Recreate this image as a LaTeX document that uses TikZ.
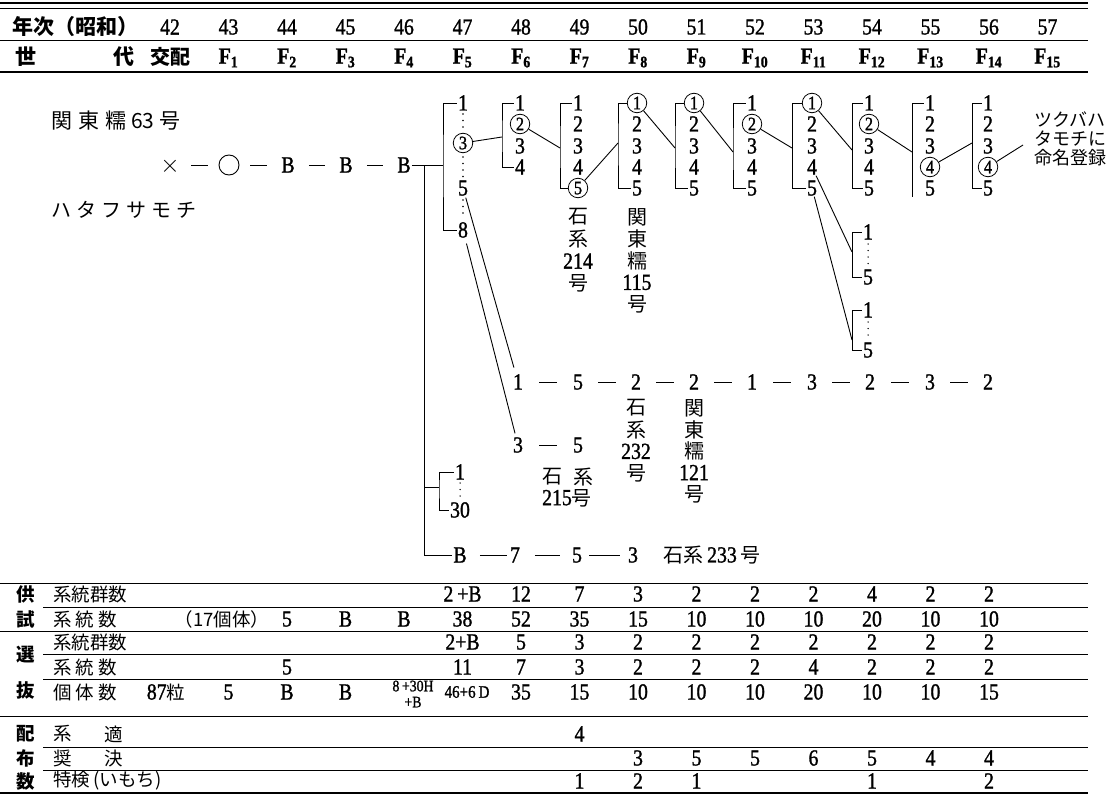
\documentclass[tikz,border=0pt]{standalone}
\usepackage{fontspec}
\setmainfont{Liberation Serif}[FakeStretch=0.86, FakeBold=1.2]
\newfontfamily\cjk{Noto Sans CJK JP}
\usetikzlibrary{calc}
\newcommand\nf{\fontsize{23}{25}\selectfont}
\newcommand\cf{\fontsize{19}{21}\selectfont}
\newcommand\jf{\cjk\fontsize{18.5}{22}\selectfont}
\newcommand\vj{\cjk\fontsize{20}{22}\selectfont}
\tikzset{
 num/.style={font=\nf, inner sep=1pt, text height=15pt, text depth=0pt},
 circ/.style={font=\cf, circle, draw, line width=0.8pt, inner sep=0pt, minimum size=19.5pt, text height=12.5pt, text depth=0pt},
 hd/.style={font=\nf, inner sep=1pt},
 jp/.style={font=\jf, inner sep=1pt},
 jpb/.style={font=\jf\bfseries, inner sep=1pt},
 vl/.style={font=\nf, inner sep=0pt},
 ln/.style={line width=0.9pt},
 dotl/.style={line width=1.8pt, line cap=round, dash pattern=on 0pt off 6.5pt},
 rulel/.style={line width=1pt},
}
\newcommand\grp[3]{%
 \foreach \j/\yy in {1/103,2/124,3/146,4/167,5/188}{%
   \ifnum\j=#3 \node[circ] (p#1-\j) at (#2,\yy) {\j};%
   \else \node[num] (p#1-\j) at (#2,\yy) {\j};\fi
 }}
\begin{document}
\begin{tikzpicture}[x=1pt,y=-1pt]
\fill[white] (0,0) rectangle (1116,797);
\useasboundingbox (0,0) rectangle (1116,797);
% ---------- header ----------
\draw[line width=1.3pt] (0,3) -- (1088,3);
\draw[line width=0.7pt] (0,8) -- (1088,8);
\draw[rulel] (0,41) -- (1088,41);
\draw[line width=1.3pt] (0,72) -- (1088,72);
\node[font=\cjk\bfseries\fontsize{21}{24}\selectfont, anchor=west, inner sep=0pt] (nenji) at (12,27) {年次（昭和）};
\node[font=\cjk\bfseries\fontsize{21}{24}\selectfont, inner sep=0pt] (sei) at (26,57) {世};
\node[font=\cjk\bfseries\fontsize{21}{24}\selectfont, inner sep=0pt] (dai) at (124,57) {代};
\foreach \yr [count=\i from 0] in {42,...,57} \node[hd] (yr\yr) at ({170+58.5*\i},27) {\yr};
\node[font=\cjk\bfseries\fontsize{20}{24}\selectfont, inner sep=0pt] (gen0) at (170,57) {交配};
\foreach \k in {1,...,15} \node[hd] (gen\k) at ({170+58.5*\k},58) {\textbf{F}\textsubscript{\textbf{\k}}};
% ---------- parents ----------
\node[font=\cjk\fontsize{21}{22}\selectfont, anchor=west, inner sep=0pt] (par1) at (51,121) {関\hspace{6pt}東\hspace{6pt}糯\hspace{5pt}63\hspace{5pt}号};
\node[font=\cjk\fontsize{20}{22}\selectfont, anchor=west, inner sep=0pt] (par2) at (51,210) {ハ\hspace{5pt}タ\hspace{5pt}フ\hspace{5pt}サ\hspace{5pt}モ\hspace{5pt}チ};
\node[num] (nx) at (170,165) {$\times$};
\node[draw, circle, minimum size=20pt, inner sep=0pt, line width=0.9pt] (no) at (229,165) {};
\node[num] (nb2) at (288,165) {B};
\node[num] (nb3) at (346,165) {B};
\node[num] (nb4) at (404,165) {B};
\foreach \p/\q in {nx/no, no/nb2, nb2/nb3, nb3/nb4} \draw[ln] ($(\p)!0.36!(\q)$) -- ($(\p)!0.64!(\q)$);
% ---------- F5 ----------
\node[num] (p5-1) at (463,103) {1};
\node[circ] (p5-3) at (463,143) {3};
\node[num] (p5-5) at (463,188) {5};
\node[num] (p5-8) at (463,230) {8};
\draw[dotl] (463,114) -- (463,132);
\draw[dotl] (463,157) -- (463,177);
\draw[dotl] (463,200) -- (463,219);
\coordinate (m5) at (443,165);
\draw[ln] (nb4) -- (m5);
\draw[ln] (p5-1.west) -| (m5) |- (p5-8.west);
% main vertical
\coordinate (j1) at (424,165);
\coordinate (j2) at (424,487);
\coordinate (j3) at (424,555);
\coordinate (mc) at (439,487);
\node[num] (c-1) at (460,472) {1};
\node[num] (c-30) at (460,510) {30};
\draw[dotl, line width=1.5pt] (460,483) -- (460,499);
\draw[ln] (j2) -- (mc);
\draw[ln] (c-1.west) -| (mc) |- (c-30.west);
\node[num] (bb) at (460,555) {B};
\draw[ln] (j1) -- (j3) -- (bb.west);
% ---------- F6 ----------
\node[num] (p6-1) at (520,103) {1};
\node[circ] (p6-2) at (520,124) {2};
\node[num] (p6-3) at (520,146) {3};
\node[num] (p6-4) at (520,167) {4};
\coordinate (m6) at (502,137);
\draw[ln] (p6-1.west) -| (m6) |- (p6-4.west);
\draw[ln] (p5-3) -- (m6);
% ---------- F7..F14 ----------
\grp{7}{578}{5}
\grp{8}{637}{1}
\grp{9}{694}{1}
\grp{10}{752}{2}
\grp{11}{812}{1}
\grp{12}{869}{2}
\grp{13}{930}{4}
\grp{14}{988}{4}
\coordinate (m7) at (560,148);
\coordinate (m8) at (618,143);
\coordinate (m9) at (675,148);
\coordinate (m10) at (733,152);
\coordinate (m11) at (792,148);
\coordinate (m12) at (852,150);
\coordinate (m13) at (912,152);
\coordinate (m13b) at (912,197);
\coordinate (m14) at (972,143);
\coordinate (tend) at (1023,145);
\foreach \g in {7,8,9,10,11,12,14} \draw[ln] (p\g-1.west) -| (m\g) |- (p\g-5.west);
\draw[ln] (p13-1.west) -| (m13b);
\draw[ln] (p6-2) -- (m7);
\draw[ln] (p7-5) -- (m8);
\draw[ln] (p8-1) -- (m9);
\draw[ln] (p9-1) -- (m10);
\draw[ln] (p10-2) -- (m11);
\draw[ln] (p11-1) -- (m12);
\draw[ln] (p12-2) -- (m13);
\draw[ln] (p13-4) -- (m14);
\draw[ln] (p14-4) -- (tend);
\node[font=\cjk\fontsize{18}{19}\selectfont, align=center, inner sep=0pt] (meimei) at (1070,139) {ツクバハ\\タモチに\\命名登録};
% small brackets from F11
\node[num] (s1-1) at (868,232) {1};
\node[num] (s1-5) at (868,277) {5};
\coordinate (s1m) at (852,252);
\draw[dotl, line width=1.5pt] (868,244) -- (868,266);
\draw[ln] (s1-1.west) -| (s1m) |- (s1-5.west);
\draw[ln] (p11-4) -- (s1m);
\node[num] (s2-1) at (868,310) {1};
\node[num] (s2-5) at (868,350) {5};
\coordinate (s2m) at (852,340);
\draw[dotl, line width=1.5pt] (868,322) -- (868,339);
\draw[ln] (s2-1.west) -| (s2m) |- (s2-5.west);
\draw[ln] (p11-5) -- (s2m);
% middle row
\foreach \v/\xx [count=\j] in {1/518,5/578,2/636,2/694,1/752,3/812,2/870,3/930,2/988} \node[num] (mr\j) at (\xx,382) {\v};
\foreach \j [evaluate=\j as \k using {int(\j+1)}] in {1,...,8} \draw[ln] ($(mr\j)!0.35!(mr\k)$) -- ($(mr\j)!0.65!(mr\k)$);
\draw[ln, shorten <=1pt, shorten >=6pt] (p5-5) -- (mr1);
% lower row
\node[num] (lr1) at (518,445) {3};
\node[num] (lr2) at (578,445) {5};
\draw[ln] ($(lr1)!0.35!(lr2)$) -- ($(lr1)!0.65!(lr2)$);
\draw[ln, shorten <=5pt, shorten >=3pt] (p5-8) -- (lr1);
% bottom B row
\node[num] (b7) at (515,555) {7};
\node[num] (b5) at (577,555) {5};
\node[num] (b3) at (633,555) {3};
\node[font=\nf, inner sep=0pt] (l233) at (712,555) {{\vj 石系}\,233\,{\vj 号}};
\draw[ln] ($(bb)!0.36!(b7)$) -- ($(bb)!0.85!(b7)$);
\draw[ln] ($(b7)!0.32!(b5)$) -- ($(b7)!0.72!(b5)$);
\draw[ln] ($(b5)!0.22!(b3)$) -- ($(b5)!0.76!(b3)$);
% vertical labels
\foreach \t [count=\j from 0] in {{\vj 石},{\vj 系},214,{\vj 号}} \node[vl] (v214-\j) at (578,{217+22*\j}) {\t};
\foreach \t [count=\j from 0] in {{\vj 関},{\vj 東},{\vj 糯},115,{\vj 号}} \node[vl] (v115-\j) at (637,{217+21.8*\j}) {\t};
\foreach \t [count=\j from 0] in {{\vj 石},{\vj 系},232,{\vj 号}} \node[vl] (v232-\j) at (636,{408+21.7*\j}) {\t};
\foreach \t [count=\j from 0] in {{\vj 関},{\vj 東},{\vj 糯},121,{\vj 号}} \node[vl] (v121-\j) at (694,{408+21.5*\j}) {\t};
\node[vl] (v215a) at (552,477) {{\vj 石}};
\node[vl] (v215b) at (583,477) {{\vj 系}};
\node[vl] (v215c) at (567,498) {215{\vj 号}};
% ---------- table ----------
\draw[rulel] (0,583) -- (1088,583);
\draw[rulel] (43,607) -- (1088,607);
\draw[rulel] (0,631) -- (1088,631);
\draw[rulel] (43,654) -- (1088,654);
\draw[rulel] (43,679) -- (1088,679);
\draw[rulel] (0,716) -- (1088,716);
\draw[rulel] (43,747) -- (1088,747);
\draw[rulel] (43,770) -- (1088,770);
\draw[line width=1.3pt] (0,793) -- (1088,793);
\node[jpb] (gk) at (26,594) {供};
\node[jpb] (gs) at (26,619) {試};
\node[jpb] (gse) at (26,655) {選};
\node[jpb] (gb) at (26,690) {抜};
\node[jpb] (gh) at (26,734) {配};
\node[jpb] (gf) at (26,758) {布};
\node[jpb] (gsu) at (26,781) {数};
\node[jp, anchor=west] (h1) at (52,594) {系統群数};
\node[jp, anchor=west] (h2) at (52,619) {系\hspace{4pt}統\hspace{4pt}数};
\node[jp, anchor=west] (h3) at (52,642) {系統群数};
\node[jp, anchor=west] (h4) at (52,667) {系\hspace{4pt}統\hspace{4pt}数};
\node[jp, anchor=west] (h5) at (52,692) {個\hspace{4pt}体\hspace{4pt}数};
\node[jp, anchor=west] (h6a) at (52,734) {系};
\node[jp] (h6b) at (114,734) {適};
\node[jp, anchor=west] (h7a) at (52,758) {奨};
\node[jp] (h7b) at (114,758) {決};
\node[jp, anchor=west] (h8) at (52,781) {特検\,(いもち)};
\foreach \c/\v in {47/2\,+B,48/12,49/7,50/3,51/2,52/2,53/2,54/4,55/2,56/2} \node[num] (ta\c) at ({170+58.5*(\c-42)},594) {\v};
\node[jp] (tb43) at (222,619) {（17個体）};
\foreach \c/\v in {44/5,45/B,46/B,47/38,48/52,49/35,50/15,51/10,52/10,53/10,54/20,55/10,56/10} \node[num] (tb\c) at ({170+58.5*(\c-42)},619) {\v};
\foreach \c/\v in {47/2+B,48/5,49/3,50/2,51/2,52/2,53/2,54/2,55/2,56/2} \node[num] (tc\c) at ({170+58.5*(\c-42)},642) {\v};
\foreach \c/\v in {44/5,47/11,48/7,49/3,50/2,51/2,52/2,53/4,54/2,55/2,56/2} \node[num] (td\c) at ({170+58.5*(\c-42)},667) {\v};
\node[num] (te42) at (166,692) {87{\jf 粒}};
\foreach \c/\v in {43/5,44/B,45/B,48/35,49/15,50/10,51/10,52/10,53/20,54/10,55/10,56/15} \node[num] (te\c) at ({170+58.5*(\c-42)},692) {\v};
\node[font=\fontsize{16}{16}\selectfont, align=center, inner sep=0pt] (te46) at (413,694) {8\,+30H\\+B};
\node[font=\fontsize{17.5}{15}\selectfont, inner sep=0pt] (te47) at (467,692) {46+6\,D};
\node[num] (tf49) at (579.5,734) {4};
\foreach \c/\v in {50/3,51/5,52/5,53/6,54/5,55/4,56/4} \node[num] (tg\c) at ({170+58.5*(\c-42)},758) {\v};
\foreach \c/\v in {49/1,50/2,51/1,54/1,56/2} \node[num] (th\c) at ({170+58.5*(\c-42)},781) {\v};
\end{tikzpicture}
\end{document}
